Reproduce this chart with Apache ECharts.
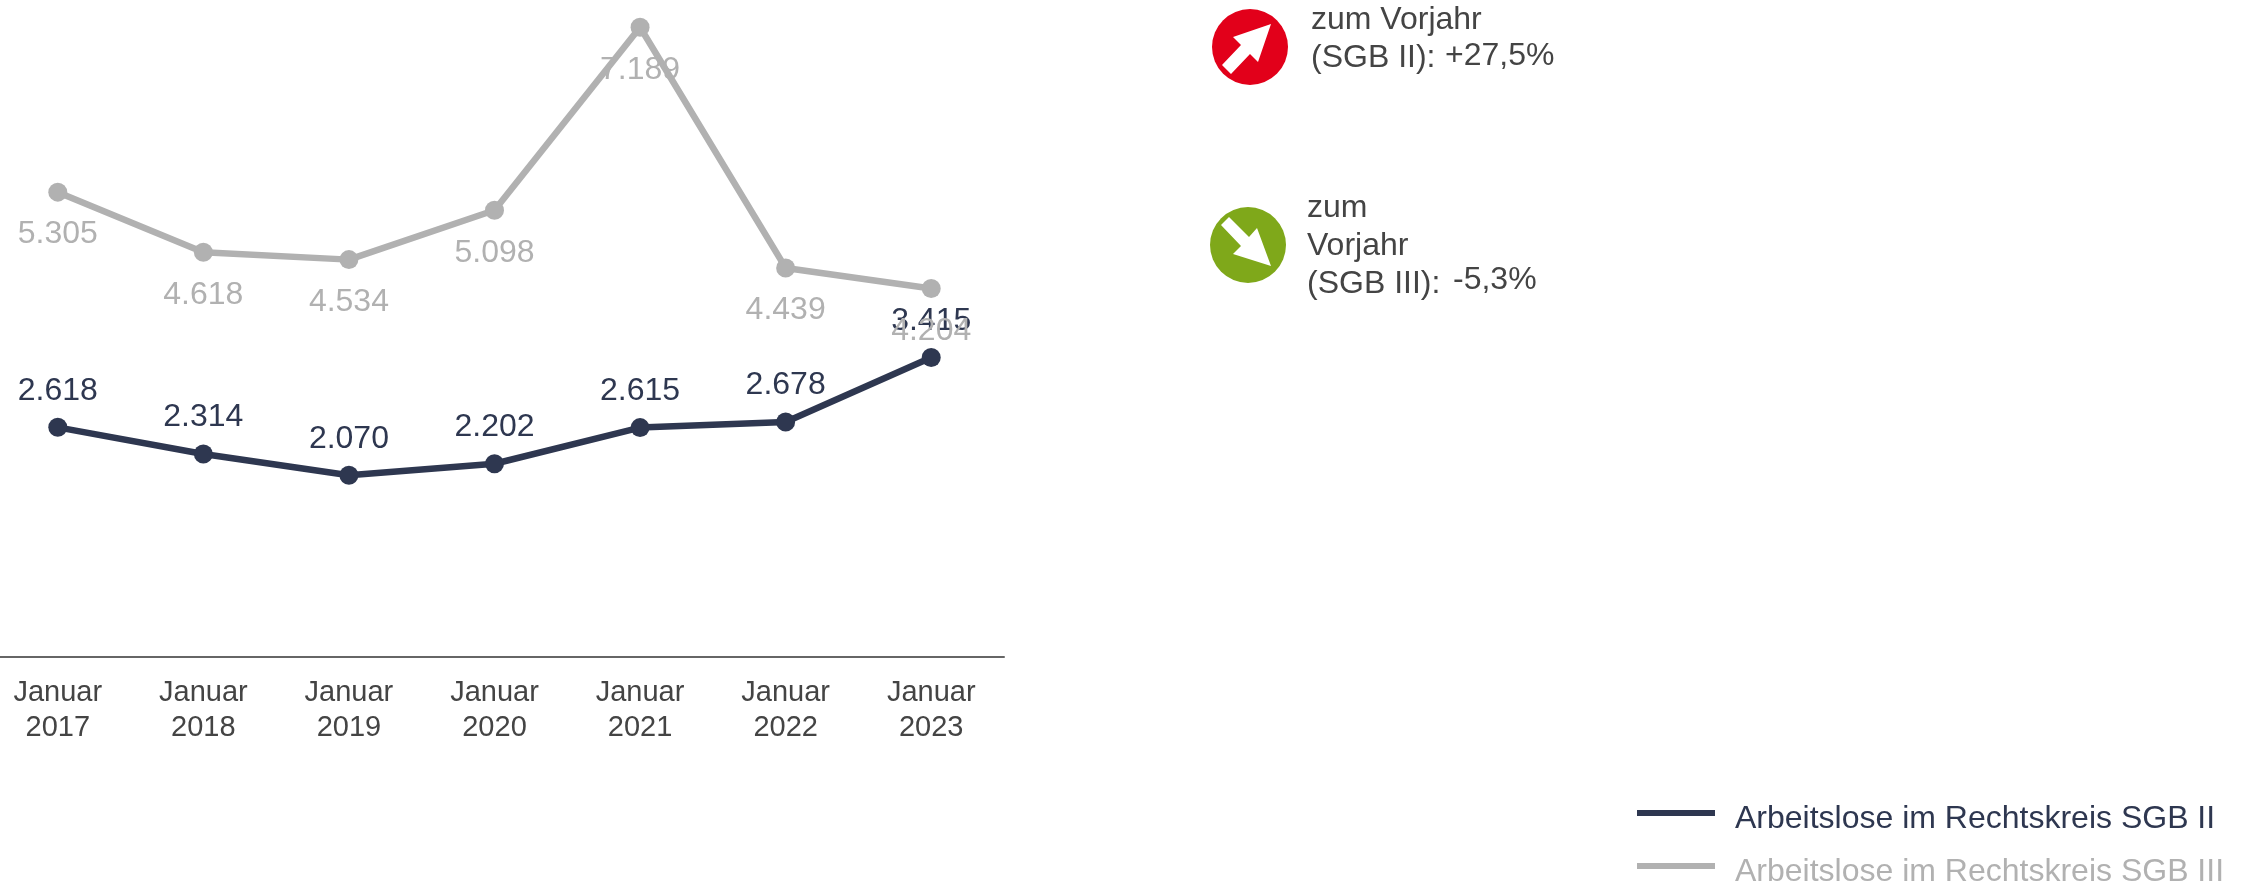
<!DOCTYPE html>
<html><head><meta charset="utf-8">
<style>html,body{margin:0;padding:0;background:#fff}#c{width:2250px;height:882px}</style>
<script src="https://cdn.jsdelivr.net/npm/echarts@6/dist/echarts.min.js"></script>
</head><body><div id="c"></div>
<script>
const categories = ['Januar\n2017','Januar\n2018','Januar\n2019','Januar\n2020','Januar\n2021','Januar\n2022','Januar\n2023'];
const sgb2Values = [2618,2314,2070,2202,2615,2678,3415];
const sgb3Values = [5305,4618,4534,5098,7189,4439,4204];
const seriesNames = ['Arbeitslose im Rechtskreis SGB II','Arbeitslose im Rechtskreis SGB III'];
const DARK='#2e3750', GREY='#b1b1b1', TEXT='#444444', FONT='"Liberation Sans",Arial,sans-serif';
const fmt = p => String(p.value).replace(/(\d)(\d{3})$/,'$1.$2');
const chart = echarts.init(document.getElementById('c'),null,{renderer:'canvas'});
function note(x,y,t){return {type:'text',x:x,y:y,style:{text:t,font:'32px '+FONT,fill:TEXT,textVerticalAlign:'middle'}};}
function line(name,data,color,pos,dist){return {name,type:'line',data,smooth:false,symbol:'circle',symbolSize:19,
  lineStyle:{color,width:6.5},itemStyle:{color},clip:false,
  label:{show:true,position:pos,distance:dist,formatter:fmt,color,fontFamily:FONT,fontSize:32}};}
const legendRich = {fontFamily:FONT,fontSize:32,lineHeight:32,padding:[12,0,0,15]};
chart.setOption({
  animation:false,backgroundColor:'#fff',
  grid:{left:-15,right:1246,top:0,bottom:225.5,containLabel:false,outerBoundsMode:'none'},
  xAxis:{type:'category',data:categories,boundaryGap:true,
    axisLine:{lineStyle:{color:'#666666',width:2}},axisTick:{show:false},
    axisLabel:{color:TEXT,fontFamily:FONT,fontSize:29,lineHeight:35,margin:19,interval:0}},
  yAxis:{type:'value',min:0,max:7500,show:false,splitLine:{show:false}},
  legend:{left:1637,top:791,height:120,orient:'vertical',selectedMode:false,icon:'rect',itemWidth:78,itemHeight:6,itemGap:9,
    formatter:'{t|{name}}',
    data:[{name:seriesNames[0],textStyle:{color:DARK}},{name:seriesNames[1],textStyle:{color:GREY}}],
    textStyle:{fontFamily:FONT,fontSize:32,rich:{t:legendRich}},padding:0},
  series:[line(seriesNames[0],sgb2Values,DARK,'top',11),line(seriesNames[1],sgb3Values,GREY,'bottom',17)],
  graphic:[
    {type:'circle',shape:{cx:1250,cy:47,r:38},style:{fill:'#e2001a'}},
    {type:'polygon',shape:{points:[[1271,24],[1233,37],[1241,45],[1222,65],[1231,74],[1250,54],[1258,62]]},style:{fill:'#fff'}},
    {type:'circle',shape:{cx:1248,cy:245,r:38},style:{fill:'#7fa81a'}},
    {type:'polygon',shape:{points:[[1271,266],[1233,254],[1241,246],[1221,225],[1229,217],[1249,237],[1257,228]]},style:{fill:'#fff'}},
    note(1311,20,'zum Vorjahr'),note(1311,58,'(SGB II):'),note(1445,56,'+27,5%'),
    note(1307,208,'zum'),note(1307,246,'Vorjahr'),note(1307,284,'(SGB III):'),note(1453,280,'-5,3%')
  ]
});
</script></body></html>
